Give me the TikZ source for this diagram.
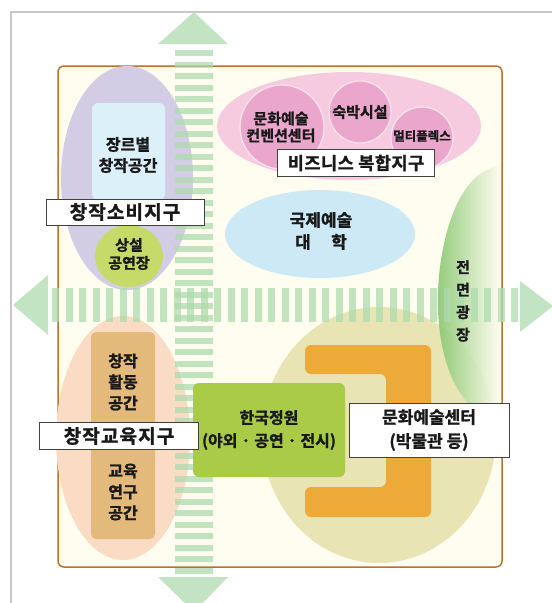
\documentclass[tikz,border=0pt]{standalone}
\usepackage{fontspec}
\newfontfamily\kr{Noto Sans CJK KR Bold}[FakeBold=1.3]
\definecolor{framegray}{HTML}{C8C8C8}
\definecolor{cream}{HTML}{FFFDF0}
\definecolor{boxbrown}{HTML}{B8722C}
\definecolor{lavender}{HTML}{D2CDE4}
\definecolor{paleblue}{HTML}{DCF0FA}
\definecolor{limegreen}{HTML}{C6DA6A}
\definecolor{pinkbig}{HTML}{F6CBE0}
\definecolor{pinkdeep}{HTML}{EBA6CB}
\definecolor{skyblue}{HTML}{CDE9F6}
\definecolor{plazagreen}{HTML}{86C56E}
\definecolor{khaki}{HTML}{E9E4B4}
\definecolor{orangebar}{HTML}{EEAA38}
\definecolor{gardengreen}{HTML}{A9CB47}
\definecolor{peach}{HTML}{FADCC5}
\definecolor{tan}{HTML}{E3B97C}
\definecolor{arrowgreen}{HTML}{ADDBAD}
\begin{document}
\begin{tikzpicture}[x=1pt,y=-1pt,
	txt/.style={font=\kr\fontsize{16}{21}\selectfont,align=center,inner sep=0pt,text=black!90},
	tagbox/.style={draw=black!75,fill=white,line width=1pt,font=\kr\fontsize{19}{23}\selectfont\addfontfeature{LetterSpace=6},inner sep=0pt,align=center,text=black!90},
	stripe/.style={draw=arrowgreen,opacity=0.75},
	head/.style={fill=arrowgreen,opacity=0.75}]
		\useasboundingbox (0,0) rectangle (552,603);
		\draw[framegray,line width=1.5] (11,603) -- (11,12) -- (552,12);
		\draw[fill=cream,draw=boxbrown,line width=1.5,rounded corners=6] (58,66) rectangle (502,567);
		\fill[lavender] (127,178) ellipse (66 and 112);
		\fill[paleblue,rounded corners=6] (92,103) rectangle (165,200);
		\fill[limegreen] (129,256) ellipse (34 and 31);
		\fill[pinkbig] (349,126) ellipse (132 and 54);
		\draw[draw=pinkbig!50!white,line width=1.2,fill=pinkdeep] (282,127) circle (42);
		\draw[draw=pinkbig!50!white,line width=1.2,fill=pinkdeep] (360,112) circle (31);
		\draw[draw=pinkbig!50!white,line width=1.2,fill=pinkdeep] (422,138) circle (31);
		\fill[skyblue] (320,234) ellipse (95 and 44);
		\fill[khaki] (379,435) ellipse (117 and 128);
		\fill[orangebar,rounded corners=6] (305,345) -- (431,345) -- (431,517) -- (305,517) -- (305,487) -- (386,487) -- (386,374) -- (305,374) -- cycle;
		\shade[left color=plazagreen,right color=cream,opacity=0.9] (500,166) .. controls (452,172) and (436,258) .. (438,310) .. controls (440,360) and (455,395) .. (478,412) -- (500,412) -- cycle;
		\fill[peach] (123,438) ellipse (67 and 122);
		\fill[tan,rounded corners=5] (91,332) rectangle (155,539);
		\draw[stripe,line width=38,dash pattern=on 6 off 5.5] (194,50) -- (194,574);
		\draw[stripe,line width=34,dash pattern=on 7 off 6.5] (52,305) -- (519,305);
		\fill[head] (158,44) -- (194,12) -- (228,44) -- cycle;
		\fill[head] (158,577) -- (194,612) -- (228,577) -- cycle;
		\fill[head] (48,275) -- (13,305) -- (48,335) -- cycle;
		\fill[head] (520,281) -- (553,306) -- (520,332) -- cycle;
		\fill[gardengreen,rounded corners=6] (193,383) rectangle (345,477);
		\node[txt] (genre) at (128,155) {장르별\\창작공간};
		\node[txt,font=\kr\fontsize{15}{18}\selectfont] (stage) at (129,254) {상설\\공연장};
		\node[tagbox,minimum width=158,minimum height=26] (consume) at (125,212) {창작소비지구};
		\node[txt,font=\kr\fontsize{15}{17}\selectfont] (conv) at (281,127) {문화예술\\컨벤션센터};
		\node[txt,font=\kr\fontsize{15}{18}\selectfont] (hotel) at (360,112) {숙박시설};
		\node[txt,font=\kr\fontsize{12.5}{15}\selectfont] (multi) at (422,136) {멀티플렉스};
		\node[tagbox,font=\kr\fontsize{17.5}{21}\selectfont\addfontfeature{LetterSpace=3},minimum width=157,minimum height=27] (business) at (356,163) {비즈니스 복합지구};
		\node[txt,font=\kr\fontsize{17}{22}\selectfont] (univ) at (321,231) {국제예술\\대\hspace{1.2em}학};
		\node[txt,font=\kr\fontsize{15}{22.5}\selectfont] (plaza) at (463,301) {전\\면\\광\\장};
		\node[txt,font=\kr\fontsize{16}{23}\selectfont] (garden) at (269,430) {한국정원\\(야외 · 공연 · 전시)};
		\node[tagbox,font=\kr\fontsize{17}{24}\selectfont,minimum width=160,minimum height=54] (center) at (429,430) {문화예술센터\\(박물관 등)};
		\node[txt] (work) at (123,382) {창작\\활동\\공간};
		\node[txt] (study) at (123,492) {교육\\연구\\공간};
		\node[tagbox,minimum width=159,minimum height=27] (educate) at (119,436) {창작교육지구};
	\end{tikzpicture}
\end{document}
